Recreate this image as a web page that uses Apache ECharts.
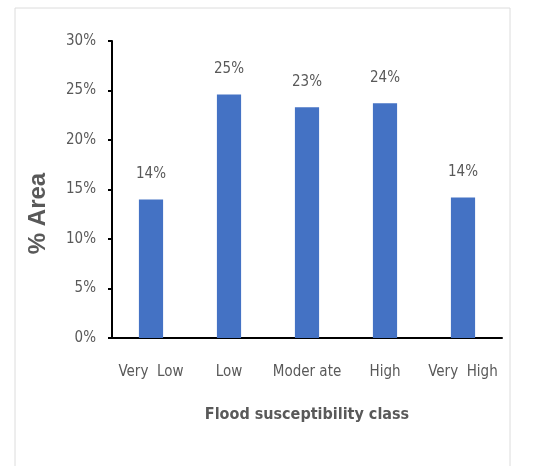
<!DOCTYPE html>
<html>
<head>
<meta charset="utf-8">
<script src="https://cdn.jsdelivr.net/npm/echarts@6/dist/echarts.min.js"></script>
<style>
  html, body { margin: 0; padding: 0; background: #fff; }
  #chart { width: 545px; height: 466px; }
</style>
</head>
<body>
<div id="chart"></div>
<script>
// flood susceptibility classes and % of area
const classes = ['Very  Low', 'Low', 'Moder ate', 'High', 'Very  High']
const areaPct = [14.0, 24.6, 23.3, 23.7, 14.2]
const yTicks = [0, 5, 10, 15, 20, 25, 30]

const labelFont = '"Liberation Sans Narrow", "DejaVu Sans Condensed", "Open Sans", sans-serif'
const gray = '#595959'

let chart = echarts.init(document.getElementById('chart'))
let option = {
  animation: false,
  graphic: [{
    type: 'rect',
    shape: { x: 15, y: 8, width: 495, height: 480 },
    style: { fill: 'none', stroke: '#dcdcdc', lineWidth: 1 },
    silent: true
  }],
  grid: {
    left: 112,
    right: 43,
    top: 41,
    bottom: 128
  },
  xAxis: {
    type: 'category',
    data: classes,
    axisLine: { lineStyle: { color: '#000', width: 2 } },
    axisTick: { show: false },
    axisLabel: {
      interval: 0,
      color: gray,
      fontSize: 15,
      fontFamily: labelFont,
      margin: 27
    },
    name: 'Flood susceptibility class',
    nameLocation: 'middle',
    nameGap: 69,
    nameTextStyle: {
      color: gray,
      fontSize: 16,
      fontWeight: 'bold',
      fontFamily: labelFont
    }
  },
  yAxis: {
    type: 'value',
    min: yTicks[0],
    max: yTicks[yTicks.length - 1],
    interval: 5,
    axisLine: { show: true, lineStyle: { color: '#000', width: 2 } },
    axisTick: { show: true, length: 4, lineStyle: { color: '#000', width: 2 } },
    splitLine: { show: false },
    axisLabel: {
      color: gray,
      fontSize: 15,
      fontFamily: labelFont,
      margin: 16,
      formatter: v => v + '%'
    },
    name: '% Area',
    nameLocation: 'middle',
    nameRotate: 90,
    nameGap: 62,
    nameTextStyle: {
      color: gray,
      fontSize: 24,
      fontWeight: 'bold',
      fontFamily: 'Arial, "Liberation Sans", sans-serif',
      padding: [0, 48, 0, 0]
    }
  },
  series: [
    {
      type: 'bar',
      data: areaPct,
      barWidth: '31%',
      itemStyle: { color: '#4472C4' },
      label: {
        show: true,
        position: 'top',
        distance: 18,
        color: gray,
        fontSize: 15,
        fontFamily: labelFont,
        formatter: p => Math.round(p.value) + '%'
      }
    }
  ]
}
chart.setOption(option)
</script>
</body>
</html>
